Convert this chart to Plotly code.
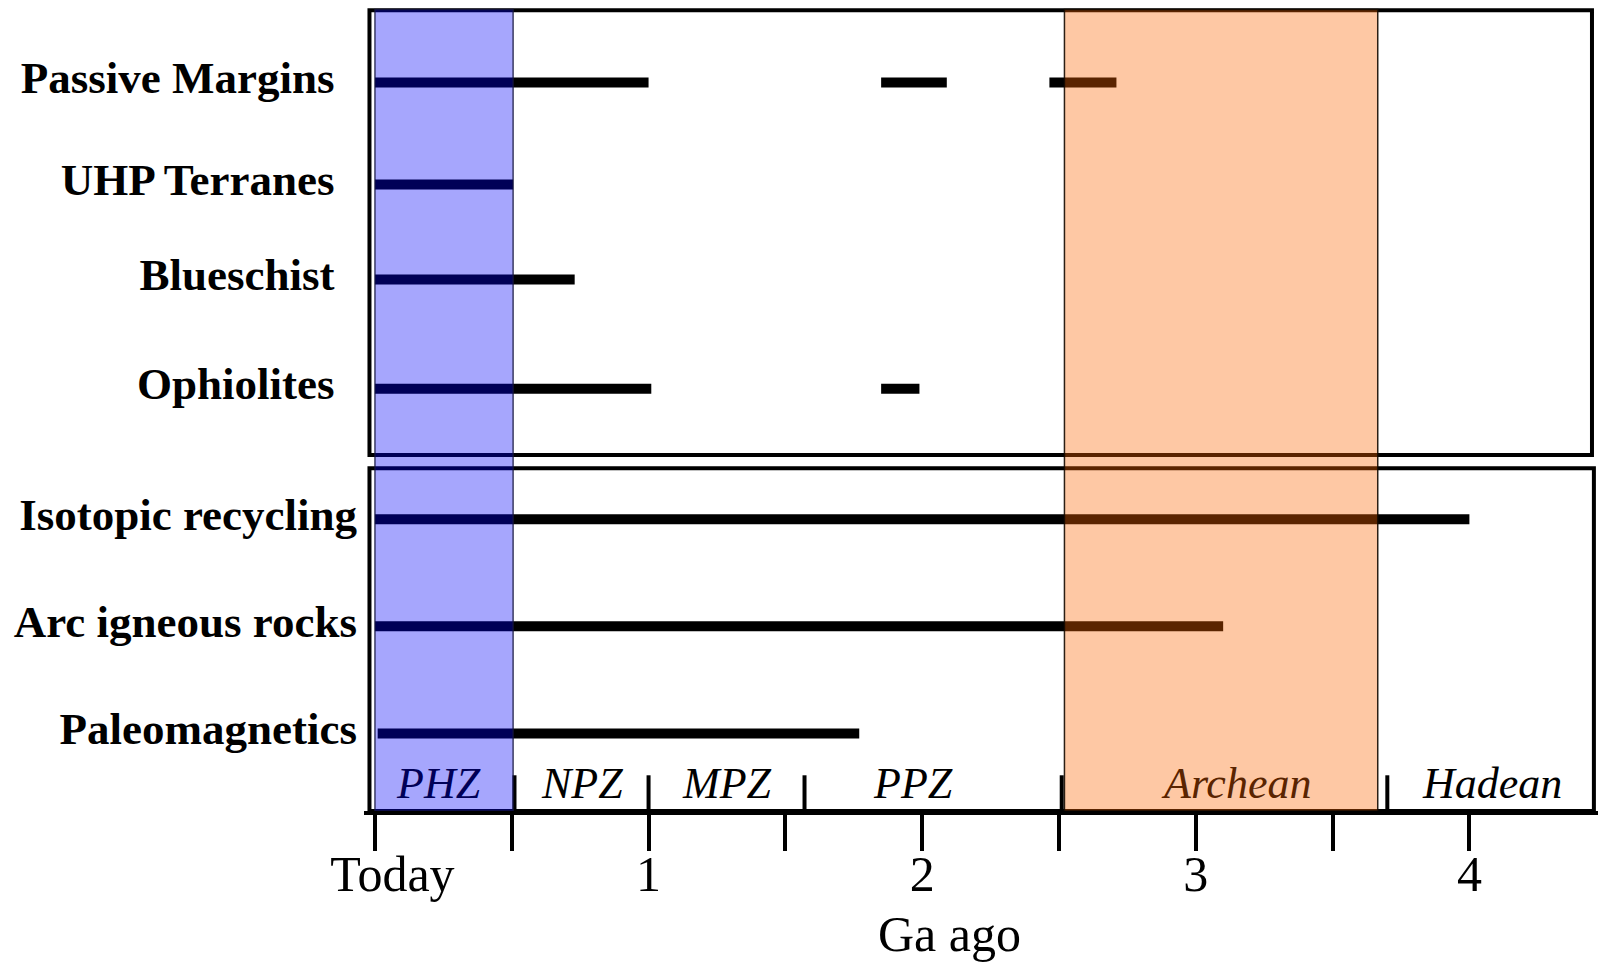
import plotly.graph_objects as go

# ---------------- data ----------------
rows = ["Passive Margins", "UHP Terranes", "Blueschist", "Ophiolites",
        "Isotopic recycling", "Arc igneous rocks", "Paleomagnetics"]
# evidence intervals (Ga ago) per row
seg_start = [[0.0, 1.85, 2.465], [0.0], [0.0], [0.0, 1.85], [0.0], [0.0], [0.01]]
seg_end = [[1.0, 2.09, 2.71], [0.505], [0.73], [1.01, 1.99], [4.0], [3.1], [1.77]]

periods = ["PHZ", "NPZ", "MPZ", "PPZ", "Archean", "Hadean"]
period_bounds = [0.0, 0.51, 1.0, 1.57, 2.51, 3.7, 4.45]
phanerozoic_band = [0.0, 0.505]
archean_band = [2.52, 3.665]

tick_vals = [0, 0.5, 1, 1.5, 2, 2.5, 3, 3.5, 4]
tick_text = ["\u2002\u2009Today", "", "1", "", "2", "", "3", "", "4"]
x_title = "Ga ago"

# ---------------- layout constants ----------------
FONT = "Liberation Serif, Times New Roman, serif"
row_y = [0, 1, 1.93, 3, 4.28, 5.33, 6.38]
n_upper = 4
Y_TOP, Y_BOT = -0.77, 7.14
BAND_TOP = -0.715
X_LEFT, X_RIGHT = -0.04, 4.47
BOX_L = -0.02
period_label_xshift = [-6, 0, 0, -20, 11, 2]

fig = go.Figure()
for name, ys, s_list, e_list in zip(rows, row_y, seg_start, seg_end):
    xs, yy = [], []
    for s, e in zip(s_list, e_list):
        xs += [s, e, None]
        yy += [ys, ys, None]
    fig.add_trace(go.Scatter(x=xs, y=yy, mode="lines", name=name,
                             line=dict(color="black", width=10),
                             showlegend=False, hoverinfo="skip"))

shapes = []
# boxes
shapes.append(dict(type="rect", xref="x", yref="y", x0=BOX_L, x1=4.448,
                   y0=-0.708, y1=3.65, line=dict(color="black", width=4),
                   fillcolor="rgba(0,0,0,0)", layer="above"))
shapes.append(dict(type="rect", xref="x", yref="y", x0=BOX_L, x1=4.455,
                   y0=3.78, y1=Y_BOT, line=dict(color="black", width=4),
                   fillcolor="rgba(0,0,0,0)", layer="above"))
# period boundary ticks above the axis
for b in period_bounds[1:-1]:
    shapes.append(dict(type="line", xref="x", yref="y", x0=b, x1=b,
                       y0=6.79, y1=Y_BOT, line=dict(color="black", width=4),
                       layer="above"))
# translucent era bands on top
shapes.append(dict(type="rect", xref="x", yref="y",
                   x0=phanerozoic_band[0], x1=phanerozoic_band[1],
                   y0=BAND_TOP, y1=Y_BOT, fillcolor="rgba(0,0,250,0.35)",
                   line=dict(color="rgba(20,20,60,0.8)", width=1.5), layer="above"))
shapes.append(dict(type="rect", xref="x", yref="y",
                   x0=archean_band[0], x1=archean_band[1],
                   y0=BAND_TOP, y1=Y_BOT, fillcolor="rgba(252,101,0,0.357)",
                   line=dict(color="rgba(20,10,0,0.9)", width=1.5), layer="above"))

period_colors = {"PHZ": "#000057", "Archean": "#5a2400"}
annotations = []
for i, p in enumerate(periods):
    xm = (period_bounds[i] + period_bounds[i + 1]) / 2
    annotations.append(dict(x=xm, y=Y_BOT, xref="x", yref="y", text=p,
                            showarrow=False, yanchor="bottom", yshift=1,
                            xshift=period_label_xshift[i],
                            font=dict(family=FONT, size=44, style="italic",
                                      color=period_colors.get(p, "black"))))
annotations.append(dict(x=2.1, y=0, xref="x", yref="paper", text=x_title,
                        showarrow=False, yanchor="middle", yshift=-123,
                        font=dict(family=FONT, size=50, color="black")))

ticktext_y = [r + "\u2002" if i < n_upper else r for i, r in enumerate(rows)]

fig.update_layout(
    width=1600, height=962,
    margin=dict(l=364, r=2, t=4, b=151),
    paper_bgcolor="white", plot_bgcolor="white",
    shapes=shapes, annotations=annotations,
    xaxis=dict(range=[X_LEFT, X_RIGHT], showgrid=False, zeroline=False,
               showline=True, linecolor="black", linewidth=4,
               ticks="outside", ticklen=36, tickwidth=4, tickcolor="black",
               tickvals=tick_vals, ticktext=tick_text, ticklabelstandoff=-20,
               tickfont=dict(family=FONT, size=50, color="black")),
    yaxis=dict(range=[Y_BOT, Y_TOP], showgrid=False, zeroline=False,
               showline=False, ticks="", tickvals=row_y, ticktext=ticktext_y,
               ticklabelstandoff=6, ticklabelshift=5,
               tickfont=dict(family=FONT, size=45, color="black", weight="bold")),
)

fig.write_html("out.html", config={"displayModeBar": False},
               post_script="document.body.style.margin='0';document.body.style.overflow='hidden';")
